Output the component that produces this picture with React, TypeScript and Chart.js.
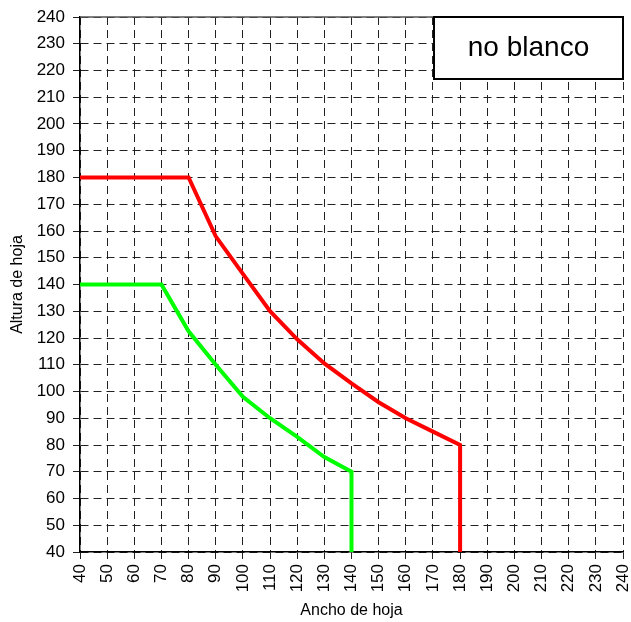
import React, { useEffect, useRef } from "react";
import { Chart, registerables } from "chart.js";

Chart.register(...registerables);

const redX = [40, 80, 90, 100, 110, 120, 130, 140, 150, 160, 170, 180, 180];
const redY = [180, 180, 158, 144, 130, 119.5, 110.5, 103, 96, 90, 85, 80, 40];
const greenX = [40, 70, 80, 90, 100, 110, 120, 130, 140, 140];
const greenY = [140, 140, 122.5, 110, 98, 90, 83, 75.5, 70, 40];
const axisMin = 40;
const axisMax = 240;
const axisStep = 10;
const xTitle = "Ancho de hoja";
const yTitle = "Altura de hoja";
const boxLabel = "no blanco";

const FONT = "'Liberation Sans', Arial, sans-serif";

const boxPlugin = {
  id: "boxLabel",
  beforeDatasetsDraw(chart: any) {
    const { ctx, chartArea } = chart;
    ctx.save();
    ctx.strokeStyle = "#555";
    ctx.lineWidth = 1.5;
    ctx.beginPath();
    ctx.moveTo(chartArea.left, chartArea.top);
    ctx.lineTo(chartArea.right, chartArea.top);
    ctx.stroke();
    ctx.restore();
  },
  afterDraw(chart: any) {
    const { ctx, chartArea } = chart;
    const w = 189;
    const h = 62;
    const x = chartArea.right - w;
    const y = chartArea.top;
    ctx.save();
    ctx.fillStyle = "#ffffff";
    ctx.fillRect(x, y, w, h);
    ctx.strokeStyle = "#000000";
    ctx.lineWidth = 2;
    ctx.strokeRect(x, y, w, h);
    ctx.fillStyle = "#000000";
    ctx.font = "28px " + FONT;
    ctx.textAlign = "center";
    ctx.textBaseline = "middle";
    ctx.fillText(boxLabel, x + w / 2, y + h / 2);
    ctx.restore();
  },
};

export default function App() {
  const ref = useRef<HTMLCanvasElement>(null);
  useEffect(() => {
    if (!ref.current) return;
    const toPts = (xs: number[], ys: number[]) => xs.map((x, i) => ({ x, y: ys[i] }));
    const tickFont = { family: FONT, size: 17 };
    const chart = new Chart(ref.current, {
      type: "line",
      data: {
        datasets: [
          {
            data: toPts(redX, redY),
            borderColor: "#ff0000",
            borderWidth: 4,
            pointRadius: 0,
            fill: false,
            tension: 0,
          },
          {
            data: toPts(greenX, greenY),
            borderColor: "#00ff00",
            borderWidth: 4,
            pointRadius: 0,
            fill: false,
            tension: 0,
          },
        ],
      },
      options: {
        animation: false,
        responsive: false,
        maintainAspectRatio: false,
        layout: { padding: { top: 17, right: 8, left: 0, bottom: 0 } },
        plugins: { legend: { display: false }, tooltip: { enabled: false } },
        scales: {
          x: {
            type: "linear",
            min: axisMin,
            max: axisMax,
            afterFit: (s: any) => {
              s.height = 70;
              s.paddingLeft = 0;
              s.paddingRight = 0;
            },
            ticks: {
              stepSize: axisStep,
              minRotation: 90,
              maxRotation: 90,
              color: "#000",
              font: tickFont,
              padding: 5,
              autoSkip: false,
            },
            grid: { color: "#222", lineWidth: 1, tickLength: 7 },
            border: { display: true, color: "#000", width: 1.5, dash: [8, 5] },
            title: {
              display: true,
              text: xTitle,
              color: "#000",
              font: { family: FONT, size: 16 },
              padding: { top: 0, bottom: 2 },
            },
          },
          y: {
            type: "linear",
            min: axisMin,
            max: axisMax,
            afterFit: (s: any) => {
              s.width = 80;
              s.paddingTop = 0;
              s.paddingBottom = 0;
            },
            ticks: {
              stepSize: axisStep,
              color: "#000",
              font: tickFont,
              padding: 8,
              autoSkip: false,
            },
            grid: { color: "#222", lineWidth: 1, tickLength: 7 },
            border: { display: true, color: "#000", width: 1.5, dash: [8, 5] },
            title: {
              display: true,
              text: yTitle,
              color: "#000",
              font: { family: FONT, size: 16 },
              padding: { top: 8, bottom: 0 },
            },
          },
        },
      },
      plugins: [boxPlugin],
    } as any);
    return () => chart.destroy();
  }, []);
  return (
    <div style={{ position: "fixed", left: 0, top: 0, width: 631, height: 622, background: "#fff" }}>
      <canvas ref={ref} width={631} height={622} style={{ width: 631, height: 622 }} />
    </div>
  );
}
